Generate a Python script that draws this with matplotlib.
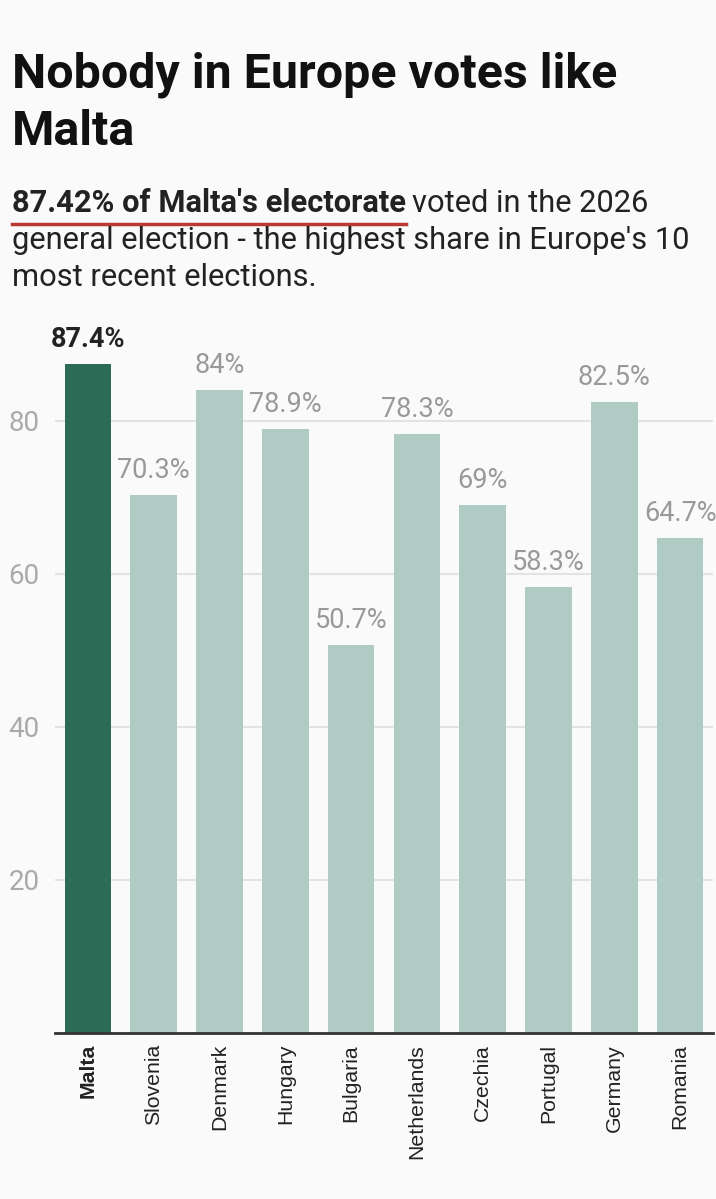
import matplotlib
matplotlib.use("Agg")
import matplotlib.pyplot as plt
from matplotlib.lines import Line2D

# data
countries = ["Malta", "Slovenia", "Denmark", "Hungary", "Bulgaria",
             "Netherlands", "Czechia", "Portugal", "Germany", "Romania"]
turnout = [87.4, 70.3, 84.0, 78.9, 50.7, 78.3, 69.0, 58.3, 82.5, 64.7]
value_labels = ["87.4%", "70.3%", "84%", "78.9%", "50.7%",
                "78.3%", "69%", "58.3%", "82.5%", "64.7%"]
yticks = [20, 40, 60, 80]

bg = "#fafafa"
dark = "#2e6b57"
light = "#afcbc4"

W, H = 716, 1199
fig = plt.figure(figsize=(W / 100, H / 100), dpi=100, facecolor=bg)

def fx(px):
    return px / W

def fy(py):
    return 1 - py / H

# title
fig.text(fx(12), fy(88), "Nobody in Europe votes like", fontsize=34.8, fontweight="bold",
         family="Roboto", color="#111111", va="baseline")
fig.text(fx(12), fy(145), "Malta", fontsize=34.8, fontweight="bold",
         family="Roboto", color="#111111", va="baseline")

# subtitle, first line is mixed bold / regular
sub_fs = 22.2
t_bold = fig.text(fx(12), fy(212), "87.42% of Malta's electorate", fontsize=sub_fs,
                  fontweight="bold", family="Roboto", color="#222222", va="baseline")
fig.canvas.draw()
r = fig.canvas.get_renderer()
bb = t_bold.get_window_extent(r)
fig.text(bb.x1 / W + fx(6), fy(212), "voted in the 2026", fontsize=sub_fs,
         family="Roboto", color="#222222", va="baseline")
fig.text(fx(12), fy(249), "general election - the highest share in Europe's 10",
         fontsize=sub_fs, family="Roboto", color="#222222", va="baseline")
fig.text(fx(12), fy(286), "most recent elections.", fontsize=sub_fs,
         family="Roboto", color="#222222", va="baseline")
fig.add_artist(Line2D([fx(12), bb.x1 / W], [fy(224), fy(224)], color="#b83a30",
                      lw=2.5, transform=fig.transFigure))

# chart
ax = fig.add_axes([fx(55), 1 - 1033 / H, fx(713) - fx(55), (1033 - 329) / H])
ax.set_facecolor(bg)
colors = [dark] + [light] * (len(countries) - 1)
x = list(range(len(countries)))
bars = ax.bar(x, turnout, width=0.71, color=colors, zorder=2)

for i, (v, lab) in enumerate(zip(turnout, value_labels)):
    ax.annotate(lab, (i, v), xytext=(0, 8), textcoords="offset points",
                ha="center", va="bottom", fontsize=19.5, family="Roboto",
                color="#222222" if i == 0 else "#999999",
                fontweight="bold" if i == 0 else "normal")

ax.set_xlim(-0.5, 9.5)
ax.set_ylim(0, 92)
ax.set_yticks(yticks)
ax.set_yticklabels([str(t) for t in yticks], fontsize=20, family="Roboto", color="#aaaaaa")
ax.yaxis.grid(True, color="#e3e3e3", lw=1.5, zorder=0)
ax.tick_params(axis="y", length=0, pad=11)
ax.set_xticks(x)
ax.set_xticklabels(countries, rotation=90, fontsize=15.3, family="Liberation Sans",
                   color="#222222")
ax.get_xticklabels()[0].set_fontweight("bold")
ax.tick_params(axis="x", length=0, pad=8)
for s in ["top", "right", "left"]:
    ax.spines[s].set_visible(False)
ax.spines["bottom"].set_color("#333333")
ax.spines["bottom"].set_linewidth(2)
ax.spines["bottom"].set_zorder(3)

fig.savefig("out.png", dpi=100, facecolor=bg)
